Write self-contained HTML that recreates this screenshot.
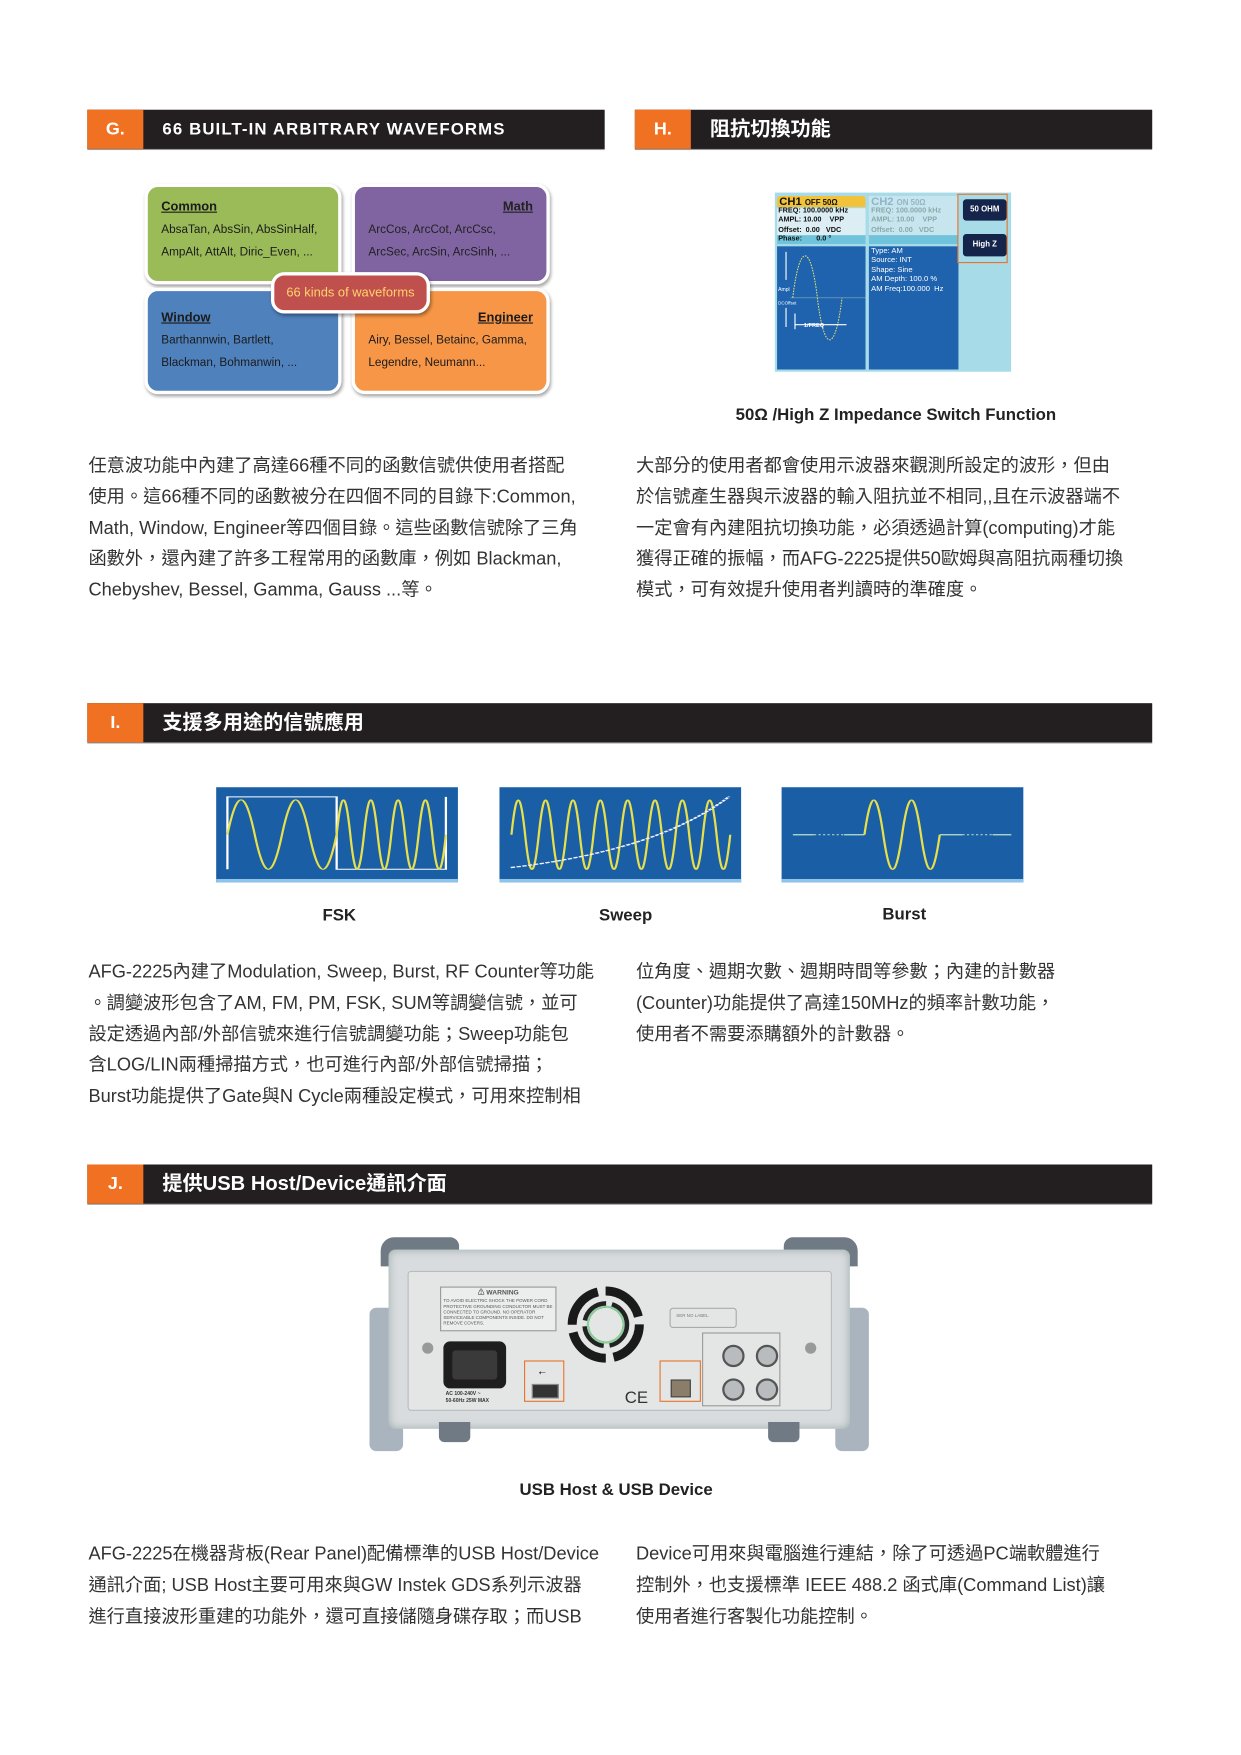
<!DOCTYPE html>
<html><head><meta charset="utf-8">
<style>
html,body{margin:0;padding:0;background:#fff;width:1241px;height:1755px;overflow:hidden}
#w{position:absolute;left:0;top:0;width:1100px;height:1556px;transform:scale(1.1197);transform-origin:0 0;font-family:"Liberation Sans","Noto Sans CJK TC",sans-serif;color:#3a3a3a}
.a{position:absolute}
.hd{position:absolute;height:35px;background:#231f20;box-shadow:0 1px 0 #999}
.hd .o{position:absolute;left:0;top:0;width:50px;height:35px;background:#f07122;color:#fff;font-weight:bold;font-size:16px;line-height:35px;text-align:center}
.hd .t{position:absolute;left:67px;top:0;line-height:35px;color:#fff;font-size:17px;font-weight:bold;white-space:nowrap}
.tx{position:absolute;font-size:16.3px;line-height:27.8px;white-space:nowrap;color:#333}
.bx{position:absolute;border:3px solid #fff;border-radius:12px;box-shadow:1px 2px 3px rgba(0,0,0,.35);font-size:10.5px;color:#1b1b1b;line-height:20px;box-sizing:border-box;padding:8px 12px}
.bx u{font-weight:bold;font-size:11.5px}
.cap{position:absolute;font-weight:bold;font-size:15px;color:#222;white-space:nowrap}
.sc{position:absolute;font-family:"Liberation Sans",sans-serif;font-weight:bold;white-space:nowrap}
</style></head><body><div id="w">

<div class="hd" style="left:78px;top:98px;width:462px"><div class="o">G.</div><div class="t" style="font-size:15px;letter-spacing:1px">66 BUILT-IN ARBITRARY WAVEFORMS</div></div>
<div class="hd" style="left:567px;top:98px;width:462px"><div class="o">H.</div><div class="t" style="font-size:18px">阻抗切換功能</div></div>

<div class="bx" style="left:129px;top:164px;width:176px;height:90px;background:#9bbb59"><u>Common</u><br>AbsaTan, AbsSin, AbsSinHalf,<br>AmpAlt, AttAlt, Diric_Even, ...</div>
<div class="bx" style="left:314px;top:164px;width:177px;height:90px;background:#8064a2;color:#222"><div style="text-align:right"><u>Math</u></div>ArcCos, ArcCot, ArcCsc,<br>ArcSec, ArcSin, ArcSinh, ...</div>
<div class="bx" style="left:129px;top:257px;width:176px;height:95px;background:#4f81bd;padding-top:14px"><u>Window</u><br>Barthannwin, Bartlett,<br>Blackman, Bohmanwin, ...</div>
<div class="bx" style="left:314px;top:257px;width:177px;height:95px;background:#f79646;padding-top:14px"><div style="text-align:right"><u>Engineer</u></div>Airy, Bessel, Betainc, Gamma,<br>Legendre, Neumann...</div>
<div class="bx" style="left:242px;top:243px;width:142px;height:37px;background:#c0504d;color:#ffd36b;font-size:11.5px;text-align:center;padding:6px 0;line-height:20px">66 kinds of waveforms</div>

<div class="a" style="left:692px;top:172px;width:211px;height:160px;background:#a8dbe8;overflow:hidden">
  <div class="a" style="left:2px;top:3px;width:79px;height:10px;background:#f2c23a;border-radius:3px 3px 0 0"></div>
  <div class="sc" style="left:4px;top:3px;font-size:10px;line-height:11px;color:#111">CH1 <span style="font-size:7px">OFF 50Ω</span></div>
  <div class="a" style="left:2px;top:14px;width:79px;height:32px;background:#dceef3"></div>
  <div class="a" style="left:2px;top:38px;width:79px;height:8px;background:#6fc4dc"></div>
  <div class="sc" style="left:3px;top:13px;font-size:6.5px;line-height:8.3px;color:#111">FREQ: 100.0000 kHz<br>AMPL: 10.00 &nbsp;&nbsp;&nbsp;VPP<br>Offset: &nbsp;0.00 &nbsp;&nbsp;VDC<br>Phase: &nbsp;&nbsp;&nbsp;&nbsp;&nbsp;&nbsp;0.0 °</div>
  <div class="a" style="left:2px;top:48px;width:79px;height:110px;background:#1f63ae"></div>
  <svg class="a" style="left:2px;top:48px" width="79" height="110" viewBox="0 0 79 110"><line x1="12" y1="46" x2="79" y2="46" stroke="#8ab" stroke-width=".6"/><path d="M14,46 C20,-4 30,-4 36,46 S52,96 58,46" fill="none" stroke="#e4e06a" stroke-width=".9" stroke-dasharray="1.5 1"/><path d="M8,5 V30 M8,55 V72 M16,60 V74 M16,70 H62" stroke="#fff" stroke-width="1"/><text x="1" y="40" font-size="4.5" fill="#fff" font-family="Liberation Sans">Ampl</text><text x="1" y="52" font-size="4" fill="#fff" font-family="Liberation Sans">DCOffset</text><text x="24" y="72" font-size="5" fill="#fff" font-weight="bold" font-family="Liberation Sans">1/FREQ</text></svg>
  <div class="a" style="left:84px;top:3px;width:80px;height:43px;background:#c7e5ee"></div>
  <div class="sc" style="left:86px;top:3px;font-size:10px;line-height:11px;color:#8fb5c8">CH2 <span style="font-size:7px">ON 50Ω</span></div>
  <div class="sc" style="left:86px;top:13px;font-size:6.5px;line-height:8.3px;color:#8aa">FREQ: 100.0000 kHz<br>AMPL: 10.00 &nbsp;&nbsp;&nbsp;VPP<br>Offset: &nbsp;0.00 &nbsp;&nbsp;VDC</div>
  <div class="a" style="left:84px;top:38px;width:80px;height:8px;background:#6fc4dc"></div>
  <div class="a" style="left:84px;top:48px;width:80px;height:110px;background:#1f63ae"></div>
  <div class="sc" style="left:86px;top:49px;font-size:6.8px;line-height:8.4px;color:#fff;font-weight:normal">Type: AM<br>Source: INT<br>Shape: Sine<br>AM Depth: 100.0 %<br>AM Freq:100.000 &nbsp;Hz</div>
  <div class="a" style="left:163px;top:1px;width:45px;height:62px;border:1.5px solid #e8742c;box-sizing:border-box"></div>
  <div class="sc" style="left:168px;top:6px;width:39px;height:19px;background:#14244a;border-radius:3px;color:#fff;font-size:7px;line-height:19px;text-align:center">50 OHM</div>
  <div class="sc" style="left:168px;top:37px;width:39px;height:20px;background:#14244a;border-radius:3px;color:#fff;font-size:7px;line-height:20px;text-align:center">High Z</div>
</div>
<div class="cap" style="left:657px;top:362px">50Ω /High Z Impedance Switch Function</div>

<div class="tx" style="left:79px;top:403px">任意波功能中內建了高達66種不同的函數信號供使用者搭配<br>使用。這66種不同的函數被分在四個不同的目錄下:Common,<br>Math, Window, Engineer等四個目錄。這些函數信號除了三角<br>函數外，還內建了許多工程常用的函數庫，例如 Blackman,<br>Chebyshev, Bessel, Gamma, Gauss ...等。</div>
<div class="tx" style="left:568px;top:403px">大部分的使用者都會使用示波器來觀測所設定的波形，但由<br>於信號產生器與示波器的輸入阻抗並不相同,,且在示波器端不<br>一定會有內建阻抗切換功能，必須透過計算(computing)才能<br>獲得正確的振幅，而AFG-2225提供50歐姆與高阻抗兩種切換<br>模式，可有效提升使用者判讀時的準確度。</div>

<div class="hd" style="left:78px;top:628px;width:951px"><div class="o">I.</div><div class="t" style="font-size:18px">支援多用途的信號應用</div></div>

<svg class="a" style="left:193px;top:703px" width="216" height="85" viewBox="0 0 321 284" preserveAspectRatio="none"><rect width="321" height="284" fill="#1a5ea6"/><rect y="274" width="321" height="10" fill="#8fc4ea"/><path d="M15,245 V29 H160 V245 H305 V29" fill="none" stroke="#fff" stroke-width="3"/><path d="M15,141.5 C28,3.5 38.2,3.5 51.25,141.5 S74.4,279.5 87.5,141.5 S110.6,3.5 123.75,141.5 S146.9,279.5 160,141.5" fill="none" stroke="#e8e04a" stroke-width="3"/><path d="M160,141.5 C166.5,3.5 171.6,3.5 178.1,141.5 S189.7,279.5 196.25,141.5 S207.8,3.5 214.4,141.5 S226,279.5 232.5,141.5 S244.1,3.5 250.6,141.5 S262.2,279.5 268.75,141.5 S280.4,3.5 286.9,141.5 S298.5,279.5 305,141.5" fill="none" stroke="#e8e04a" stroke-width="3"/></svg>
<svg class="a" style="left:446px;top:703px" width="216" height="85" viewBox="0 0 321 284" preserveAspectRatio="none"><rect width="321" height="284" fill="#1a5ea6"/><rect y="274" width="321" height="10" fill="#8fc4ea"/><path d="M16,142 C22.5,4 27.6,4 34.15,142 S45.75,280 52.3,142 S63.9,4 70.45,142 S82.05,280 88.6,142 S100.2,4 106.75,142 S118.35,280 124.9,142 S136.5,4 143.05,142 S154.65,280 161.2,142 S172.8,4 179.35,142 S190.95,280 197.5,142 S209.1,4 215.65,142 S227.25,280 233.8,142 S245.4,4 251.95,142 S263.55,280 270.1,142 S281.7,4 288.25,142 S299.85,280 306.4,142" fill="none" stroke="#e8e04a" stroke-width="3"/><path d="M15,240 Q210,190 305,28" fill="none" stroke="#eef" stroke-width="4" stroke-dasharray="6 2"/></svg>
<svg class="a" style="left:698px;top:703px" width="216" height="85" viewBox="0 0 321 284" preserveAspectRatio="none"><rect width="321" height="284" fill="#1a5ea6"/><rect y="274" width="321" height="10" fill="#8fc4ea"/><path d="M15,142 H43 M83,142 H110 M210,142 H240 M280,142 H305" stroke="#b9e2c8" stroke-width="4"/><path d="M43,142 H83 M240,142 H280" stroke="#b9e2c8" stroke-width="3" stroke-dasharray="3 3"/><path d="M110,142 C119,4 126,4 135,142 S151,280 160,142 S176,4 185,142 S201,280 210,142" fill="none" stroke="#e8e04a" stroke-width="3"/></svg>
<div class="cap" style="left:288px;top:809px">FSK</div>
<div class="cap" style="left:535px;top:809px">Sweep</div>
<div class="cap" style="left:788px;top:808px">Burst</div>

<div class="tx" style="left:79px;top:855px">AFG-2225內建了Modulation, Sweep, Burst, RF Counter等功能<br>。調變波形包含了AM, FM, PM, FSK, SUM等調變信號，並可<br>設定透過內部/外部信號來進行信號調變功能；Sweep功能包<br>含LOG/LIN兩種掃描方式，也可進行內部/外部信號掃描；<br>Burst功能提供了Gate與N Cycle兩種設定模式，可用來控制相</div>
<div class="tx" style="left:568px;top:855px">位角度、週期次數、週期時間等參數；內建的計數器<br>(Counter)功能提供了高達150MHz的頻率計數功能，<br>使用者不需要添購額外的計數器。</div>

<div class="hd" style="left:78px;top:1040px;width:951px"><div class="o">J.</div><div class="t" style="font-size:18px">提供USB Host/Device通訊介面</div></div>

<div class="a" style="left:0;top:8px;width:1100px;height:1px">
<div class="a" style="left:340px;top:1097px;width:70px;height:26px;background:#6f7a85;border-radius:12px 8px 0 0"></div>
<div class="a" style="left:700px;top:1097px;width:66px;height:26px;background:#6f7a85;border-radius:8px 12px 0 0"></div>
<div class="a" style="left:330px;top:1160px;width:30px;height:128px;background:#a9b4bf;border-radius:6px"></div>
<div class="a" style="left:746px;top:1160px;width:30px;height:128px;background:#a9b4bf;border-radius:6px"></div>
<div class="a" style="left:347px;top:1108px;width:412px;height:160px;background:#d9dcde;border-radius:6px;box-shadow:inset 0 0 8px #9aa"></div>
<div class="a" style="left:364px;top:1127px;width:377px;height:123px;background:#e4e6e6;border:1px solid #b8bcbe;border-radius:3px"></div>
<div class="a" style="left:392px;top:1262px;width:28px;height:18px;background:#6f7a85;border-radius:0 0 5px 5px"></div>
<div class="a" style="left:686px;top:1262px;width:28px;height:18px;background:#6f7a85;border-radius:0 0 5px 5px"></div>
<div class="a" style="left:393px;top:1141px;width:104px;height:40px;border:1px solid #999;background:#eceeee;font-size:4px;line-height:5px;color:#555;padding:2px;box-sizing:border-box;overflow:hidden"><div style="text-align:center;font-size:6px;font-weight:bold;line-height:7px">⚠ WARNING</div>TO AVOID ELECTRIC SHOCK THE POWER CORD PROTECTIVE GROUNDING CONDUCTOR MUST BE CONNECTED TO GROUND. NO OPERATOR SERVICEABLE COMPONENTS INSIDE. DO NOT REMOVE COVERS.</div>
<svg class="a" style="left:503px;top:1137px" width="76" height="76" viewBox="0 0 76 76"><circle cx="38" cy="38" r="30" fill="none" stroke="#1a1a1a" stroke-width="8" stroke-dasharray="40 7"/><circle cx="38" cy="38" r="18" fill="none" stroke="#222" stroke-width="6" stroke-dasharray="25 5"/><circle cx="38" cy="38" r="16" fill="none" stroke="#8ccf9c" stroke-width="2"/></svg>
<div class="a" style="left:598px;top:1160px;width:60px;height:18px;border:1px solid #aaa;border-radius:3px;font-size:4px;color:#777;padding:3px 5px;box-sizing:border-box">SER NO LABEL</div>
<div class="a" style="left:396px;top:1190px;width:56px;height:42px;background:#1e1e1e;border-radius:6px"></div>
<div class="a" style="left:404px;top:1198px;width:40px;height:26px;background:#3a3a3a;border-radius:3px"></div>
<div class="a" style="left:398px;top:1234px;font-size:4.5px;line-height:6px;color:#333;font-weight:bold;white-space:nowrap">AC 100-240V ~<br>50-60Hz 25W MAX</div>
<div class="a" style="left:468px;top:1207px;width:36px;height:37px;border:1.5px solid #e8742c;box-sizing:border-box"></div>
<div class="a" style="left:475px;top:1228px;width:22px;height:11px;background:#333;border:1px solid #888"></div>
<div class="a" style="left:481px;top:1213px;font-size:8px;color:#333">⭠</div>
<div class="a" style="left:589px;top:1207px;width:37px;height:37px;border:1.5px solid #e8742c;box-sizing:border-box"></div>
<div class="a" style="left:599px;top:1224px;width:16px;height:14px;background:#8a7d6a;border:1px solid #444"></div>
<div class="a" style="left:558px;top:1232px;font-size:15px;color:#333">CE</div>
<div class="a" style="left:627px;top:1182px;width:70px;height:66px;border:1px solid #999;box-sizing:border-box"></div>
<div class="a" style="left:645px;top:1193px;width:20px;height:20px;border-radius:50%;background:#b8bcbe;border:2px solid #555;box-sizing:border-box"></div>
<div class="a" style="left:675px;top:1193px;width:20px;height:20px;border-radius:50%;background:#b8bcbe;border:2px solid #555;box-sizing:border-box"></div>
<div class="a" style="left:645px;top:1223px;width:20px;height:20px;border-radius:50%;background:#b8bcbe;border:2px solid #555;box-sizing:border-box"></div>
<div class="a" style="left:675px;top:1223px;width:20px;height:20px;border-radius:50%;background:#b8bcbe;border:2px solid #555;box-sizing:border-box"></div>
<div class="a" style="left:377px;top:1191px;width:10px;height:10px;border-radius:50%;background:#999"></div>
<div class="a" style="left:719px;top:1191px;width:10px;height:10px;border-radius:50%;background:#999"></div>
</div>

<div class="cap" style="left:464px;top:1322px">USB Host &amp; USB Device</div>

<div class="tx" style="left:79px;top:1375px">AFG-2225在機器背板(Rear Panel)配備標準的USB Host/Device<br>通訊介面; USB Host主要可用來與GW Instek GDS系列示波器<br>進行直接波形重建的功能外，還可直接儲隨身碟存取；而USB</div>
<div class="tx" style="left:568px;top:1375px">Device可用來與電腦進行連結，除了可透過PC端軟體進行<br>控制外，也支援標準 IEEE 488.2 函式庫(Command List)讓<br>使用者進行客製化功能控制。</div>

</div></body></html>
